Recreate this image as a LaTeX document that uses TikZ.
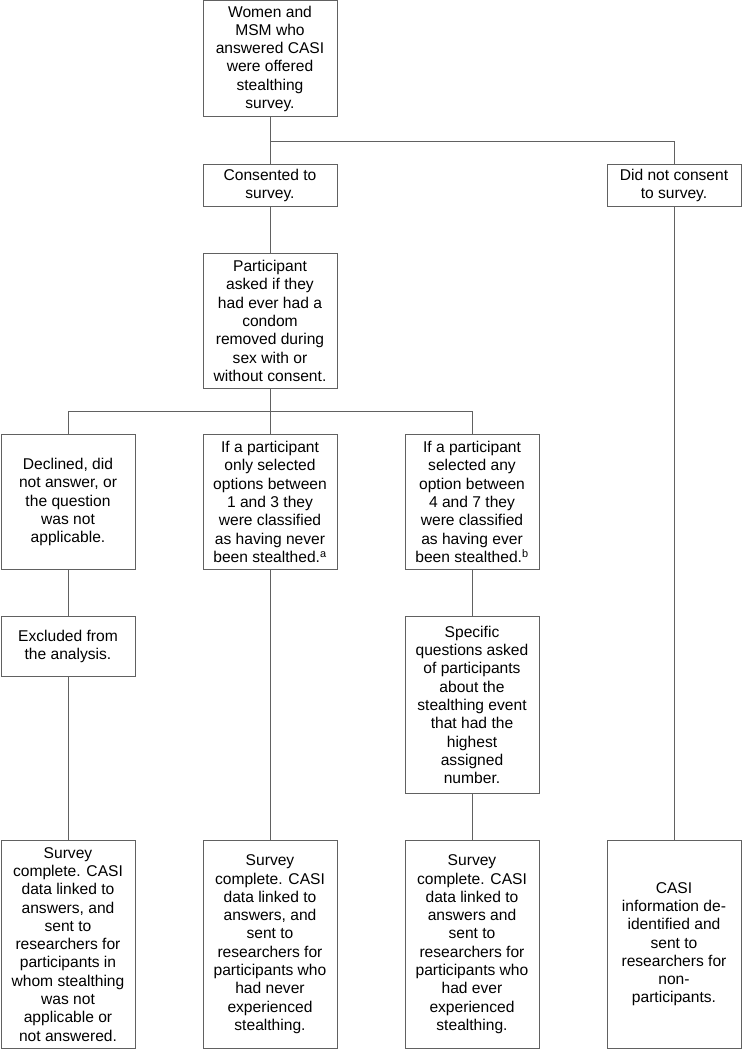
\documentclass[tikz,border=0pt]{standalone}
\usepackage{fontspec}
\setmainfont{Liberation Sans}
\usepackage{tikz}
\definecolor{LineColor}{gray}{0.38}
\newcommand{\bw}{134pt}
\newcommand{\cA}{68}
\newcommand{\cB}{270}
\newcommand{\cC}{472}
\newcommand{\cD}{674}
\tikzset{
    flowbox/.style={draw=LineColor,line width=1pt,fill=white,align=center,anchor=north,
        minimum width=\bw,inner sep=1pt,font=\fontsize{15.6}{18.3}\selectfont},
    link/.style={draw=LineColor,line width=1pt},
}

\begin{document}
\begin{tikzpicture}[x=1pt,y=-1pt]
    \useasboundingbox (0,0) rectangle (742,1049);    % Freeze the bounding box
    % --- --- --- Offer and consent
    \node[flowbox,minimum height=115.5pt] (OFFER) at (\cB,0.5) {Women and\\MSM who\\answered CASI\\were offered\\stealthing\\survey.};
    \node[flowbox,minimum height=42pt] (CONSENT) at (\cB,164) {Consented to\\survey.};
    \node[flowbox,minimum height=42pt] (NOCONSENT) at (\cD,164) {Did not consent\\to survey.};
    \node[flowbox,minimum height=135pt] (ASK) at (\cB,253) {Participant\\asked if they\\had ever had a\\condom\\removed during\\sex with or\\without consent.};
    % --- --- --- Answers
    \node[flowbox,minimum height=135pt] (DECLINED) at (\cA,434) {Declined, did\\not answer, or\\the question\\was not\\applicable.};
    \node[flowbox,minimum height=135pt] (NEVER) at (\cB,434) {If a participant\\only selected\\options between\\1 and 3 they\\were classified\\as having never\\been stealthed.\textsuperscript{a}};
    \node[flowbox,minimum height=135pt] (EVER) at (\cC,434) {If a participant\\selected any\\option between\\4 and 7 they\\were classified\\as having ever\\been stealthed.\textsuperscript{b}};
    \node[flowbox,minimum height=60pt] (EXCLUDED) at (\cA,616) {Excluded from\\the analysis.};
    \node[flowbox,minimum height=177pt] (SPECIFIC) at (\cC,616) {Specific\\questions asked\\of participants\\about the\\stealthing event\\that had the\\highest\\assigned\\number.};
    % --- --- --- Outcomes
    \node[flowbox,minimum height=207.5pt] (OUT_NA) at (\cA,840) {Survey\\complete. CASI\\data linked to\\answers, and\\sent to\\researchers for\\participants in\\whom stealthing\\was not\\applicable or\\not answered.};
    \node[flowbox,minimum height=207.5pt] (OUT_NEVER) at (\cB,840) {Survey\\complete. CASI\\data linked to\\answers, and\\sent to\\researchers for\\participants who\\had never\\experienced\\stealthing.};
    \node[flowbox,minimum height=207.5pt] (OUT_EVER) at (\cC,840) {Survey\\complete. CASI\\data linked to\\answers and\\sent to\\researchers for\\participants who\\had ever\\experienced\\stealthing.};
    \node[flowbox,minimum height=207.5pt] (OUT_NOCONSENT) at (\cD,840) {CASI\\information de-\\identified and\\sent to\\researchers for\\non-\\participants.};
    %
    \coordinate (SPLIT_A) at (\cB,141);
    \coordinate (SPLIT_B) at (\cB,411);
    \draw[link] (OFFER.south) -- (CONSENT.north);
    \draw[link] (SPLIT_A) -| (NOCONSENT.north);
    \draw[link] (CONSENT.south) -- (ASK.north);
    \draw[link] (ASK.south) -- (NEVER.north);
    \draw[link] (SPLIT_B) -| (DECLINED.north);
    \draw[link] (SPLIT_B) -| (EVER.north);
    \draw[link] (DECLINED.south) -- (EXCLUDED.north);
    \draw[link] (EXCLUDED.south) -- (OUT_NA.north);
    \draw[link] (NEVER.south) -- (OUT_NEVER.north);
    \draw[link] (EVER.south) -- (SPECIFIC.north);
    \draw[link] (SPECIFIC.south) -- (OUT_EVER.north);
    \draw[link] (NOCONSENT.south) -- (OUT_NOCONSENT.north);
\end{tikzpicture}
\end{document}
